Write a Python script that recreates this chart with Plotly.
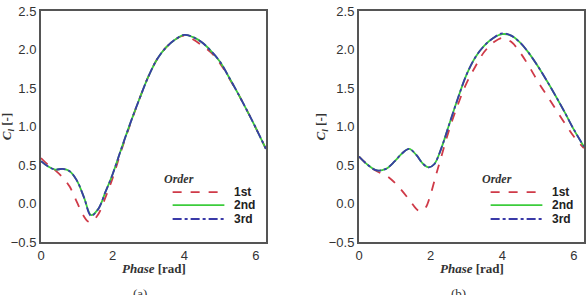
import plotly.graph_objects as go

# ---------------- data ----------------
# Panel (a)
a_x_1st = [0, 0.2, 0.4, 0.6, 0.8, 1.0, 1.2, 1.3, 1.4, 1.6, 1.8, 2.0, 2.25, 2.5, 2.75, 3.0, 3.25, 3.5, 3.75, 4.0, 4.25, 4.5, 4.75, 5.0, 5.25, 5.5, 5.75, 6.0, 6.28]
a_y_1st = [0.59, 0.50, 0.43, 0.34, 0.22, 0.02, -0.17, -0.23, -0.24, -0.14, 0.08, 0.33, 0.70, 1.04, 1.36, 1.65, 1.88, 2.03, 2.13, 2.18, 2.13, 2.05, 1.96, 1.82, 1.63, 1.43, 1.21, 0.98, 0.71]
a_x_2nd = [0, 0.2, 0.4, 0.6, 0.8, 1.0, 1.2, 1.4, 1.6, 1.8, 2.0, 2.25, 2.5, 2.75, 3.0, 3.25, 3.5, 3.75, 4.0, 4.25, 4.5, 4.75, 5.0, 5.25, 5.5, 5.75, 6.0, 6.28]
a_y_2nd = [0.55, 0.48, 0.44, 0.45, 0.42, 0.30, 0.08, -0.15, -0.07, 0.15, 0.38, 0.72, 1.05, 1.36, 1.65, 1.88, 2.03, 2.13, 2.19, 2.16, 2.09, 1.98, 1.84, 1.64, 1.43, 1.21, 0.98, 0.71]
a_x_3rd = a_x_2nd
a_y_3rd = [0.55, 0.48, 0.44, 0.45, 0.42, 0.30, 0.08, -0.16, -0.07, 0.15, 0.38, 0.72, 1.05, 1.36, 1.65, 1.88, 2.03, 2.13, 2.19, 2.16, 2.09, 1.98, 1.84, 1.64, 1.43, 1.21, 0.98, 0.71]

# Panel (b)
b_x_1st = [0, 0.25, 0.5, 0.8, 1.1, 1.4, 1.6, 1.7, 1.85, 2.0, 2.15, 2.3, 2.5, 2.75, 3.0, 3.25, 3.5, 3.75, 4.0, 4.25, 4.5, 4.75, 5.0, 5.25, 5.5, 5.75, 6.0, 6.28]
b_y_1st = [0.61, 0.50, 0.42, 0.35, 0.22, 0.05, -0.07, -0.10, -0.06, 0.12, 0.37, 0.61, 0.93, 1.27, 1.56, 1.78, 1.97, 2.09, 2.15, 2.10, 1.96, 1.78, 1.58, 1.40, 1.22, 1.04, 0.87, 0.72]
b_x_2nd = [0, 0.25, 0.5, 0.75, 1.0, 1.2, 1.4, 1.6, 1.8, 1.95, 2.1, 2.3, 2.5, 2.75, 3.0, 3.25, 3.5, 3.75, 4.0, 4.25, 4.5, 4.75, 5.0, 5.25, 5.5, 5.75, 6.0, 6.28]
b_y_2nd = [0.61, 0.50, 0.43, 0.45, 0.55, 0.65, 0.71, 0.63, 0.51, 0.47, 0.51, 0.72, 1.00, 1.35, 1.67, 1.90, 2.05, 2.15, 2.20, 2.18, 2.09, 1.95, 1.78, 1.59, 1.39, 1.18, 0.96, 0.74]
b_x_3rd = b_x_2nd
b_y_3rd = [0.61, 0.50, 0.43, 0.45, 0.55, 0.65, 0.71, 0.63, 0.51, 0.47, 0.51, 0.72, 1.00, 1.35, 1.67, 1.90, 2.05, 2.15, 2.21, 2.18, 2.09, 1.95, 1.78, 1.59, 1.39, 1.18, 0.96, 0.74]

order_labels = ["1st", "2nd", "3rd"]
x_ticks = [0, 2, 4, 6]
y_ticks = [-0.5, 0.0, 0.5, 1.0, 1.5, 2.0, 2.5]
captions = ["(a)", "(b)"]

# ---------------- styles ----------------
colors = ["#cf3a48", "#3ccc3c", "#3a3aa8"]
dashes = ["dash", "solid", "dashdot"]
SANS = "Liberation Sans, Arial, sans-serif"
SERIF = "Liberation Serif, Times New Roman, serif"

fig = go.Figure()

panels = [
    ("x", "y", [(a_x_1st, a_y_1st), (a_x_2nd, a_y_2nd), (a_x_3rd, a_y_3rd)]),
    ("x2", "y2", [(b_x_1st, b_y_1st), (b_x_2nd, b_y_2nd), (b_x_3rd, b_y_3rd)]),
]
for xa, ya, series in panels:
    for i, (xs, ys) in enumerate(series):
        fig.add_trace(go.Scatter(
            x=xs, y=ys, xaxis=xa, yaxis=ya, mode="lines",
            line=dict(color=colors[i], dash=dashes[i], width=1.8, shape="spline", smoothing=1.0),
            name=order_labels[i], showlegend=False, hoverinfo="skip"))

ydom = [1 - 242 / 295, 1 - 11 / 295]
xdoms = [[41 / 588, 266 / 588], [359 / 588, 584 / 588]]

axis_common = dict(showline=True, mirror=True, linecolor="#555555", linewidth=2,
                   showgrid=False, zeroline=False, ticks="", automargin=False,
                   tickfont=dict(family=SANS, size=13, color="#333333"))

fig.update_layout(
    width=588, height=295, margin=dict(l=0, r=0, t=0, b=0, pad=0),
    paper_bgcolor="white", plot_bgcolor="white", showlegend=False,
    xaxis=dict(domain=xdoms[0], range=[0, 6.2832], tickvals=x_ticks, anchor="y", **axis_common),
    yaxis=dict(domain=ydom, range=[-0.5, 2.5], tickvals=y_ticks, tickformat=".1f", anchor="x", **axis_common),
    xaxis2=dict(domain=xdoms[1], range=[0, 6.2832], tickvals=x_ticks, anchor="y2", **axis_common),
    yaxis2=dict(domain=ydom, range=[-0.5, 2.5], tickvals=y_ticks, tickformat=".1f", anchor="x2", **axis_common),
)

shapes = []
annotations = []
leg_y = [0.216, 0.160, 0.0996]
ytitle_x = [-0.148, -0.165]
for k, (xa, ya) in enumerate([("x", "y"), ("x2", "y2")]):
    xd = xa + " domain"
    yd = ya + " domain"
    # legend
    annotations.append(dict(xref=xd, yref=yd, x=0.69, y=0.273, yanchor="middle", text="<b><i>Order</i></b>",
                            showarrow=False, font=dict(family=SERIF, size=12, color="#333333")))
    for i in range(3):
        shapes.append(dict(type="line", xref=xd, yref=yd, x0=0.585, x1=0.815, y0=leg_y[i], y1=leg_y[i],
                           line=dict(color=colors[i], dash=dashes[i], width=1.8)))
        annotations.append(dict(xref=xd, yref=yd, x=0.853, y=leg_y[i], xanchor="left", yanchor="middle",
                                text="<b>%s</b>" % order_labels[i], borderpad=0,
                                showarrow=False, font=dict(family=SANS, size=12, color="#222222")))
    # axis titles
    annotations.append(dict(xref=xd, yref="paper", x=0.5, y=1 - 268 / 295, yanchor="middle",
                            text="<b><i>Phase</i> [rad]</b>",
                            showarrow=False, font=dict(family=SERIF, size=13, color="#333333")))
    annotations.append(dict(xref=xd, yref=yd, x=ytitle_x[k], y=0.5, textangle=-90,
                            xanchor="center", yanchor="middle", borderpad=0,
                            text="<b><i>C<sub>l</sub></i> [-]</b>",
                            showarrow=False, font=dict(family=SERIF, size=13, color="#333333")))
    # caption
    annotations.append(dict(xref=xd, yref="paper", x=0.44, y=1 - 284 / 295, yanchor="top", text=captions[k],
                            showarrow=False, font=dict(family=SERIF, size=13, color="#333333")))

fig.update_layout(shapes=shapes, annotations=annotations)
fig.write_html("out.html")
